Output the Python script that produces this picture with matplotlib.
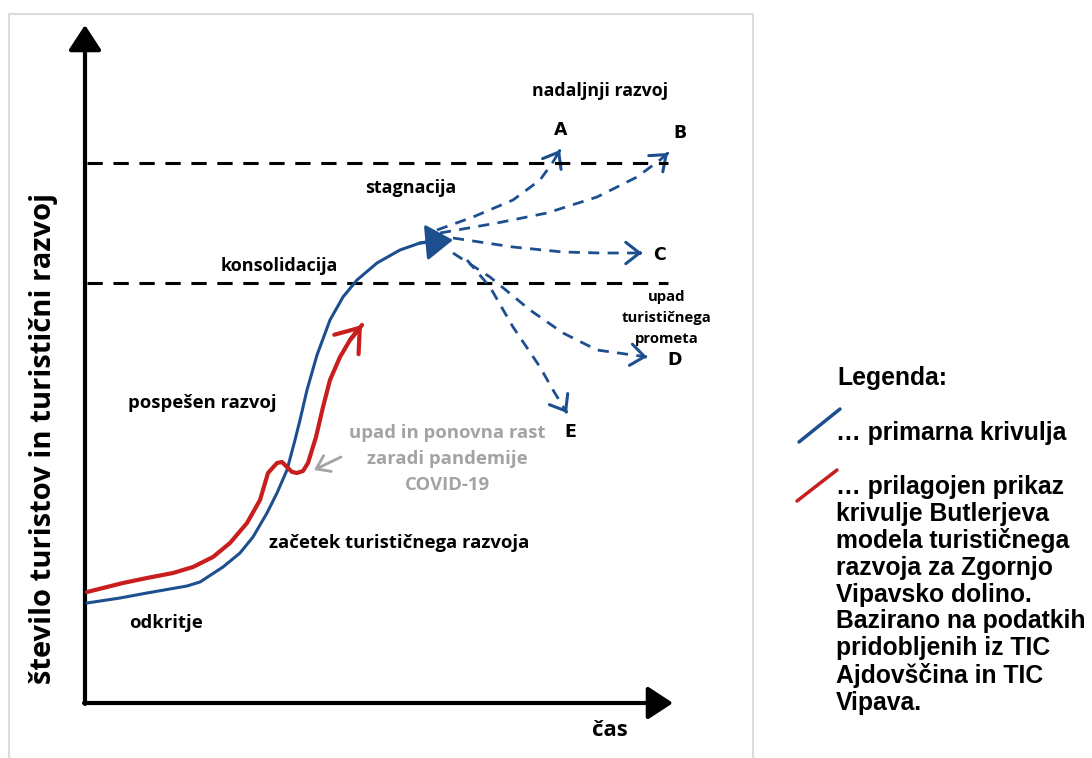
import matplotlib
matplotlib.use("Agg")
import matplotlib.pyplot as plt
import numpy as np
from matplotlib.patches import FancyArrowPatch

# curve points (time, tourists) in drawing units
blue_t = [2, 35, 62, 102, 115, 138, 155, 168, 182, 192, 202, 210, 215, 222, 232, 245, 258, 272, 292, 315, 335, 347]
blue_v = [100, 105, 110, 117, 121, 136, 150, 166, 190, 210, 233, 263, 283, 313, 348, 383, 406, 423, 440, 453, 460, 462]

red_t = [2, 38, 62, 88, 108, 128, 145, 162, 175, 183, 192, 197, 202, 207, 212, 218, 223, 227, 231, 238, 245, 255, 265, 277]
red_v = [111, 120, 125, 130, 136, 146, 160, 180, 203, 230, 240, 241, 236, 231, 230, 232, 240, 253, 266, 296, 323, 346, 363, 378]

# scenario branches after stagnation
branches = {
    "A": ([352, 388, 428, 455, 468, 475], [473, 486, 503, 523, 541, 553]),
    "B": ([355, 412, 462, 512, 552, 575, 583], [470, 480, 490, 506, 526, 543, 550]),
    "C": ([368, 428, 478, 515, 557], [465, 456, 451, 450, 450]),
    "D": ([368, 405, 445, 478, 512, 562], [450, 426, 393, 370, 353, 346]),
    "E": ([382, 405, 428, 455, 468, 482], [443, 416, 376, 336, 313, 290]),
}
branch_labels = {"A": (476, 573), "B": (595, 570), "C": (575, 448), "D": (590, 343), "E": (485, 271)}

levels = [420, 540]   # konsolidacija, stagnacija thresholds

BLUE = "#1d4f8f"
RED = "#c81e1e"
GRAY = "#a3a3a3"
FONT = "Open Sans"

fig = plt.figure(figsize=(10.92, 7.58), dpi=100)
ax = fig.add_axes([0, 0, 1, 1])
ax.set_xlim(-85, 1007)
ax.set_ylim(-55, 703)
ax.axis("off")

# light frame round the drawing
ax.plot([-76, -76, 668, 668], [-60, 689, 689, -60], color="#dcdcdc", lw=1.5, clip_on=False)

# axes with arrowheads
ax.add_patch(FancyArrowPatch((0, -1), (0, 678), arrowstyle="-|>,head_length=0.55,head_width=0.36",
                             mutation_scale=28, lw=3, color="black", shrinkA=0, shrinkB=0))
ax.add_patch(FancyArrowPatch((-1, 0), (588, 0), arrowstyle="-|>,head_length=0.55,head_width=0.36",
                             mutation_scale=28, lw=3, color="black", shrinkA=0, shrinkB=0))

for lv in levels:
    ax.plot([2, 583], [lv, lv], color="black", lw=2.2, ls=(0, (5, 3.5)))

# primary curve with filled arrowhead
ax.plot(blue_t, blue_v, color=BLUE, lw=2.2, solid_capstyle="round")
ax.add_patch(FancyArrowPatch((blue_t[-2], blue_v[-2]), (368, 463),
                             arrowstyle="-|>,head_length=0.6,head_width=0.4",
                             mutation_scale=28, lw=2.2, color=BLUE, shrinkA=0, shrinkB=0))

# adjusted curve with open arrowhead
ax.plot(red_t, red_v, color=RED, lw=3, solid_capstyle="round", solid_joinstyle="round")
ax.add_patch(FancyArrowPatch((red_t[-2], red_v[-2]), (red_t[-1], red_v[-1]),
                             arrowstyle="->,head_length=0.55,head_width=0.4",
                             mutation_scale=28, lw=3, color=RED, shrinkA=0, shrinkB=0))

for key, (bt, bv) in branches.items():
    ax.plot(bt, bv, color=BLUE, lw=2, ls=(0, (4, 3)))
    tip = np.array([bt[-1], bv[-1]], float)
    prev = np.array([bt[-2], bv[-2]], float)
    start = tip - 0.05 * (tip - prev)
    ax.add_patch(FancyArrowPatch(tuple(start), tuple(tip), arrowstyle="->,head_length=0.45,head_width=0.35",
                                 mutation_scale=22, lw=2.2, color=BLUE, shrinkA=0, shrinkB=0))
    lx, ly = branch_labels[key]
    ax.text(lx, ly, key, ha="center", va="center", fontsize=12.5, fontweight="bold",
            family="DejaVu Sans", color="black")

# gray pointer to the covid dip
ax.add_patch(FancyArrowPatch((256, 246), (229, 233), arrowstyle="->,head_length=0.5,head_width=0.35",
                             mutation_scale=18, lw=2, color=GRAY, shrinkA=0, shrinkB=0))

txt = dict(ha="center", va="center", fontweight="bold", family=FONT)
ax.text(515, 612, "nadaljnji razvoj", fontsize=12.8, **txt)
ax.text(326, 515, "stagnacija", fontsize=13, **txt)
ax.text(194, 437, "konsolidacija", fontsize=13, **txt)
ax.text(582, 385, "upad\nturističnega\nprometa", fontsize=10.7, linespacing=1.6, **txt)
ax.text(117, 300, "pospešen razvoj", fontsize=13.3, **txt)
ax.text(362, 244, "upad in ponovna rast\nzaradi pandemije\nCOVID-19", fontsize=13.3, linespacing=1.6,
        color=GRAY, **txt)
ax.text(314, 160, "začetek turističnega razvoja", fontsize=13.3, **txt)
ax.text(81, 80, "odkritje", fontsize=13.3, **txt)
ax.text(525, -27, "čas", fontsize=16, **txt)
ax.text(-41, 265, "število turistov in turistični razvoj", fontsize=21, rotation=90, **txt)

# legend on the right
leg = dict(ha="left", fontweight="bold", family="Liberation Sans", color="black")
ax.text(752, 325, "Legenda:", fontsize=17.8, va="center", **leg)
ax.plot([714, 755], [261, 294], color=BLUE, lw=2.5, solid_capstyle="round")
ax.text(751, 270, "… primarna krivulja", fontsize=17.8, va="center", **leg)
ax.plot([712, 752], [202, 233], color=RED, lw=2.5, solid_capstyle="round")
ax.text(751, 228, "… prilagojen prikaz\nkrivulje Butlerjeva\nmodela turističnega\nrazvoja za Zgornjo\n"
        "Vipavsko dolino.\nBazirano na podatkih\npridobljenih iz TIC\nAjdovščina in TIC\nVipava.",
        fontsize=17.8, va="top", linespacing=1.14, **leg)

fig.savefig("out.png", dpi=100)
